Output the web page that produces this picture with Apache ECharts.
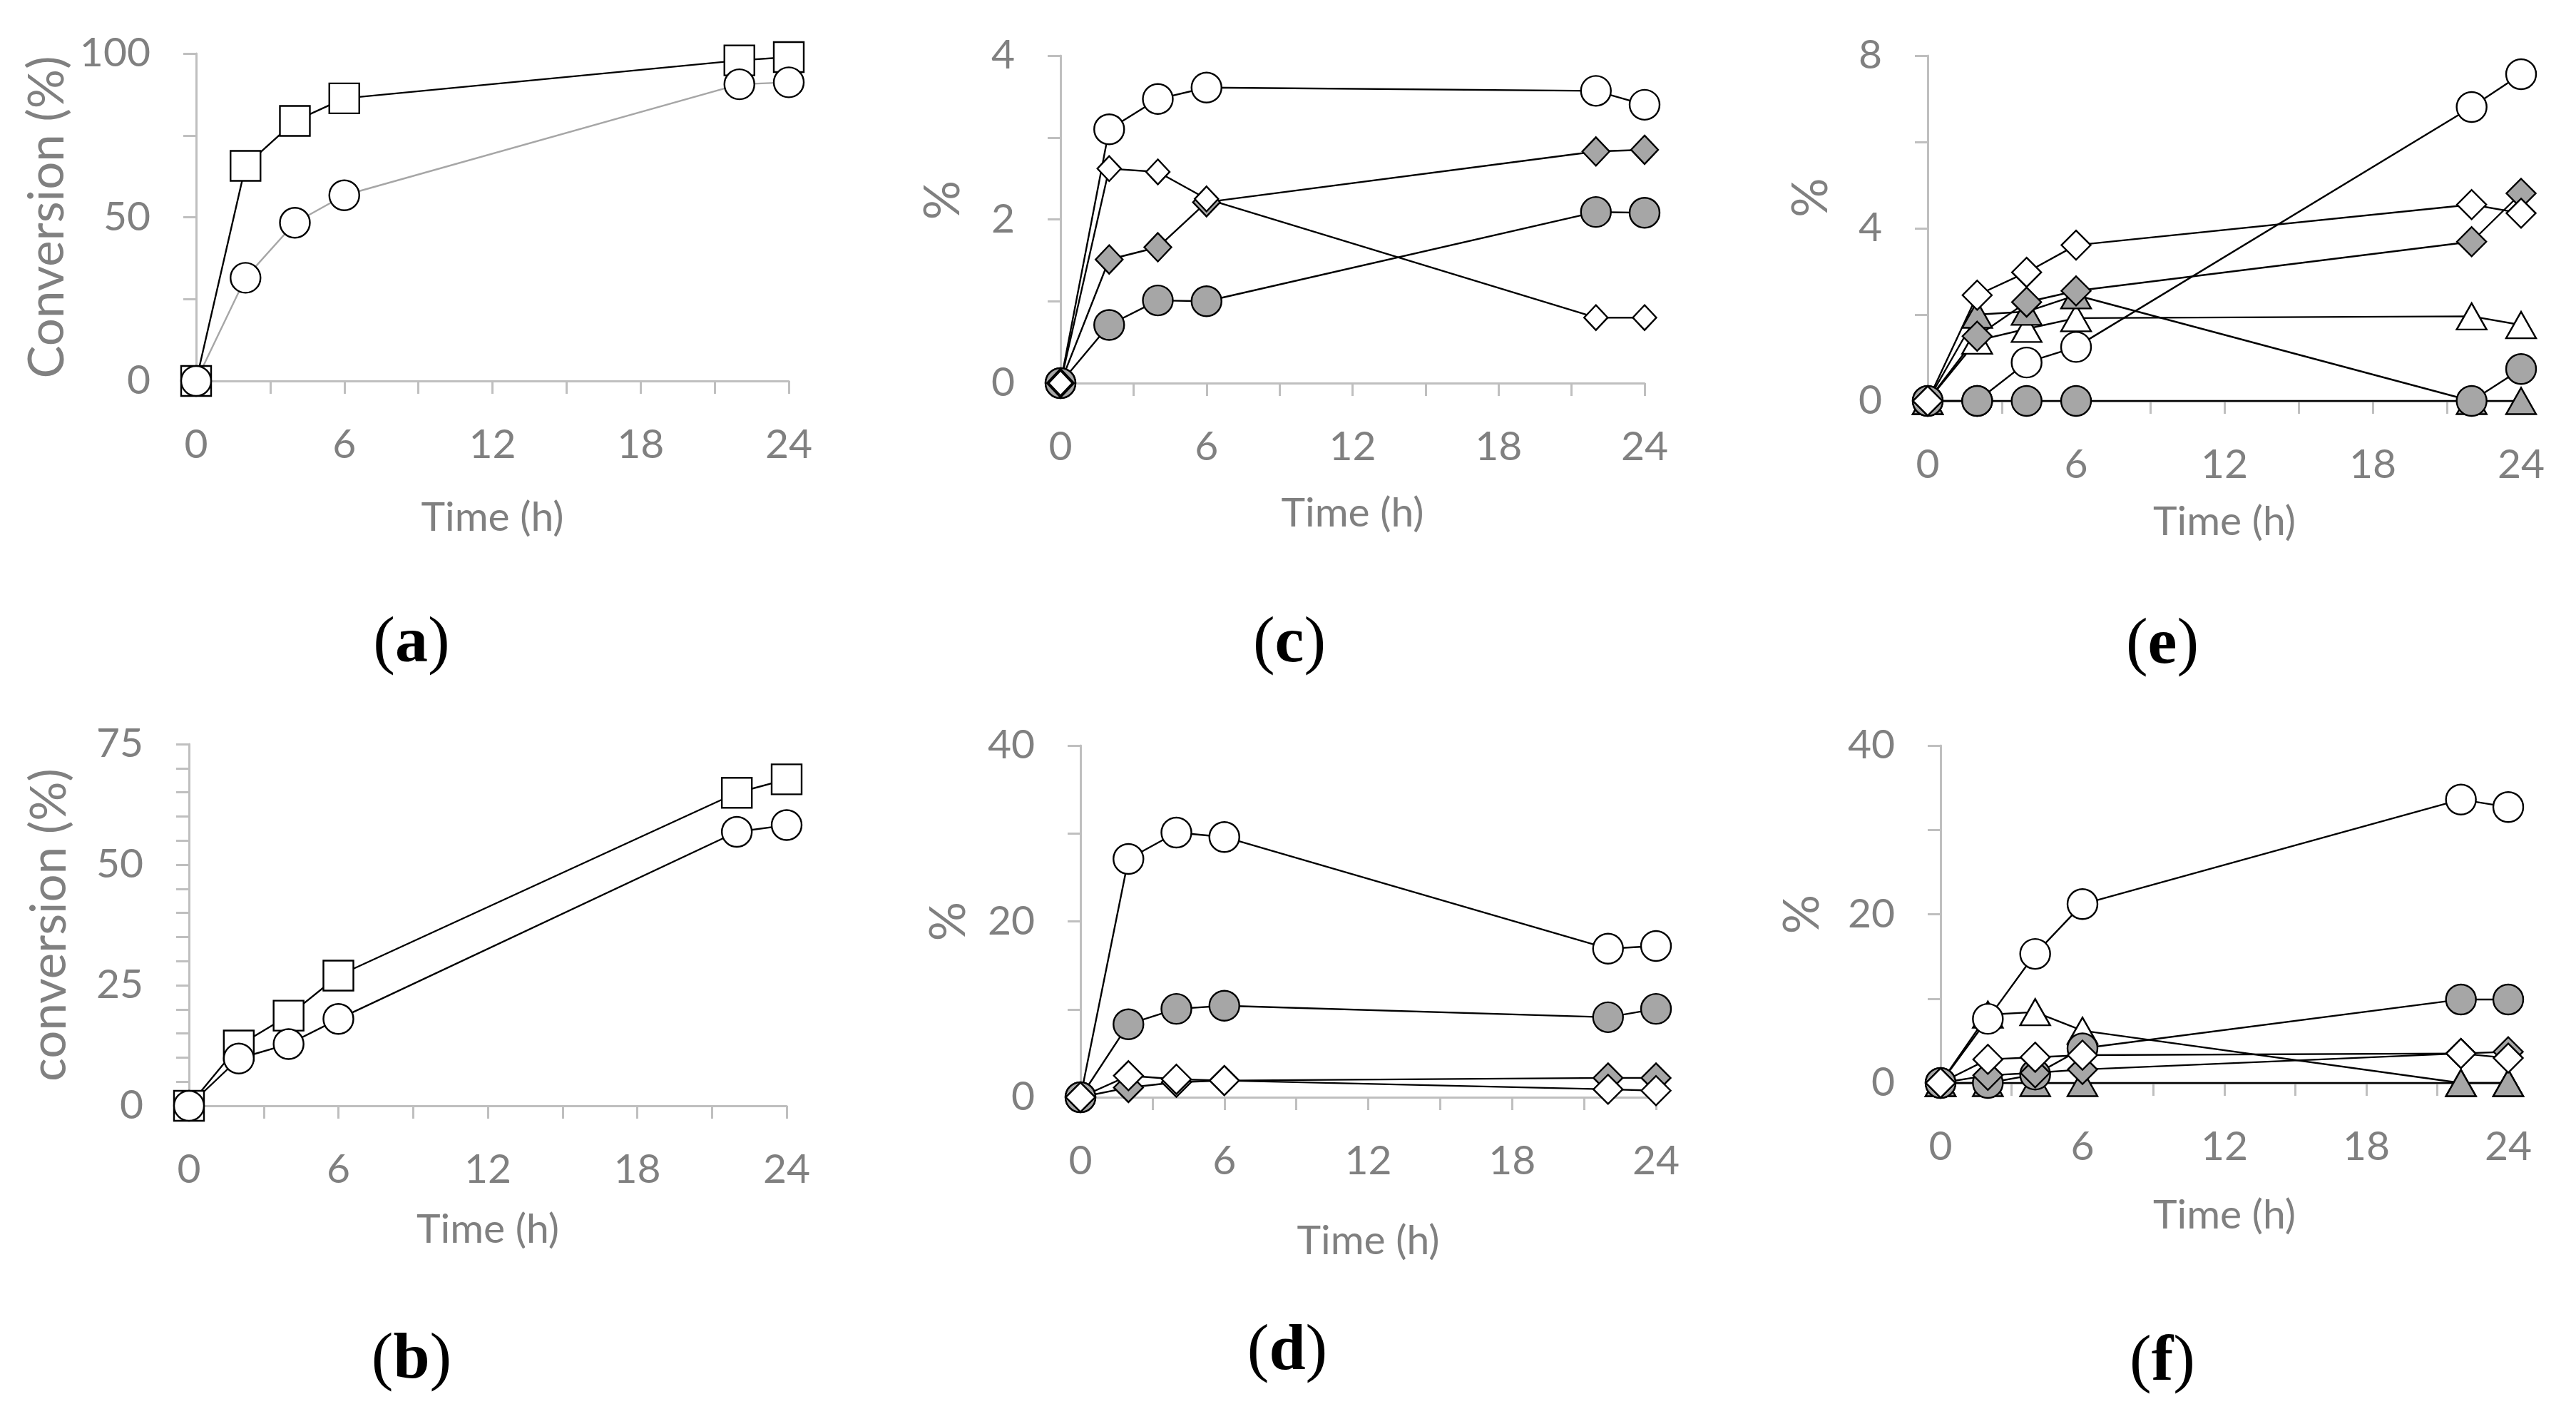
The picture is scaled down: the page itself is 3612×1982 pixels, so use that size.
<!DOCTYPE html>
<html>
<head>
<meta charset="utf-8">
<script src="https://cdn.jsdelivr.net/npm/echarts@6/dist/echarts.min.js"></script>
<style>
html, body { margin: 0; padding: 0; background: #fff; }
#container { width: 3612px; height: 1982px; }
</style>
</head>
<body>
<div id="container"></div>
<script>
// sampling times (h), shared by all panels
var hours = [0, 2, 4, 6, 22, 24];

// (a) conversion
var aSquare = [0, 65.7, 79.4, 86.3, 97.9, 98.9];
var aCircle = [0, 31.5, 48.3, 56.7, 90.6, 91.2];
// (b) conversion
var bSquare = [0, 12.5, 18.7, 27.0, 64.9, 67.7];
var bCircle = [0, 9.8, 12.8, 18.0, 56.8, 58.2];
// (c) %
var cOpenCircle = [0, 3.10, 3.47, 3.61, 3.57, 3.40];
var cGreyCircle = [0, 0.71, 1.01, 1.00, 2.09, 2.08];
var cGreyDiamond = [0, 1.51, 1.66, 2.21, 2.83, 2.85];
var cOpenDiamond = [0, 2.62, 2.58, 2.25, 0.80, 0.80];
// (d) %
var dOpenCircle = [0, 27.1, 30.1, 29.6, 16.9, 17.2];
var dGreyCircle = [0, 8.3, 10.05, 10.4, 9.1, 10.05];
var dGreyDiamond = [0, 1.1, 1.7, 1.9, 2.2, 2.2];
var dOpenDiamond = [0, 2.45, 2.05, 1.9, 0.9, 0.75];
// (e) %
var eOpenTriangle = [0, 1.40, 1.67, 1.92, 1.96, 1.76];
var eGreyTriangle = [0, 2.0, 2.07, 2.45, 0, 0];
var eOpenCircle = [0, 0, 0.89, 1.25, 6.81, 7.57];
var eGreyCircle = [0, 0, 0, 0, 0, 0.74];
var eGreyDiamond = [0, 1.50, 2.29, 2.55, 3.69, 4.81];
var eOpenDiamond = [0, 2.45, 2.98, 3.61, 4.55, 4.35];
// (f) %
var fOpenTriangle = [0, 8.1, 8.4, 6.2, 0, 0];
var fGreyTriangle = [0, 0, 0, 0, 0, 0];
var fOpenCircle = [0, 7.6, 15.3, 21.2, 33.6, 32.7];
var fGreyCircle = [0, 0, 1.0, 4.1, 9.9, 9.9];
var fGreyDiamond = [0, 0.9, 1.2, 1.6, 3.5, 3.7];
var fOpenDiamond = [0, 2.8, 3.05, 3.3, 3.5, 2.95];

// y axis settings per panel: max, tick step, label step
var yMax = [100, 75, 4, 40, 8, 40];
var yTick = [25, 5, 1, 10, 2, 10];
var yLabelStep = [50, 25, 2, 20, 4, 20];
var yNames = ['Conversion (%)', 'conversion (%)', '%', '%', '%', '%'];
var panelLabels = ['a', 'b', 'c', 'd', 'e', 'f'];

var grey = '#a6a6a6';
var axisGrey = '#bfbfbf';
var textGrey = '#808080';
var font = 'Lato';

var dom = document.getElementById('container');
var myChart = echarts.init(dom);

// pixel layout of each plot box (a, b, c, d, e, f)
var grids = [
	{ left: 275, top: 75, width: 831, height: 459 },
	{ left: 265, top: 1043, width: 838, height: 507 },
	{ left: 1487, top: 78, width: 819, height: 459 },
	{ left: 1515, top: 1045, width: 807, height: 493 },
	{ left: 2703, top: 78, width: 832, height: 484 },
	{ left: 2721, top: 1045, width: 796, height: 473 }
];
var xNameGap = [163, 145, 154, 173, 141, 157];
var yNameGap = [174, 161, 130, 150, 129, 159];
var yNamePad = [0, 0, 54, 0, 86, 0];
var labelPos = [[577, 903], [577, 1907], [1808, 903], [1805, 1895], [3032, 905], [3032, 1910]];

function pairs(vals) {
	return hours.map(function(h, i) {
		return [h, vals[i]];
	});
}

function mk(idx, vals, symbol, fill, size, lineColor) {
	return {
		type: 'line',
		xAxisIndex: idx,
		yAxisIndex: idx,
		data: pairs(vals),
		symbol: symbol,
		symbolSize: size,
		clip: false,
		lineStyle: { color: lineColor || '#000', width: 2.4 },
		itemStyle: { color: fill, borderColor: '#000', borderWidth: 2.4 },
		emphasis: { disabled: true }
	};
}

var xAxes = [], yAxes = [], graphics = [];
for (var i = 0; i < 6; i++) {
	(function(i) {
		xAxes.push({
			type: 'value',
			gridIndex: i,
			min: 0,
			max: 24,
			interval: 3,
			name: 'Time (h)',
			nameLocation: 'middle',
			nameGap: xNameGap[i],
			nameTextStyle: { color: textGrey, fontFamily: font, fontSize: 57 },
			axisLine: { lineStyle: { color: axisGrey, width: 3 } },
			axisTick: { length: 18, lineStyle: { color: axisGrey, width: 3 } },
			axisLabel: {
				color: textGrey, fontFamily: font, fontSize: 57, margin: 61,
				formatter: function(v) { return v % 6 === 0 ? v : ''; }
			},
			splitLine: { show: false }
		});
		yAxes.push({
			type: 'value',
			gridIndex: i,
			min: 0,
			max: yMax[i],
			interval: yTick[i],
			name: yNames[i],
			nameLocation: 'middle',
			nameGap: yNameGap[i],
			nameTextStyle: { color: textGrey, fontFamily: font, fontSize: 69, padding: [0, 0, 0, yNamePad[i]] },
			axisLine: { lineStyle: { color: axisGrey, width: 3 } },
			axisTick: { length: 18, lineStyle: { color: axisGrey, width: 3 } },
			axisLabel: {
				color: textGrey, fontFamily: font, fontSize: 57, margin: 64,
				formatter: function(v) { return Math.abs(v % yLabelStep[i]) < 1e-9 ? v : ''; }
			},
			splitLine: { show: false }
		});
		graphics.push({
			type: 'text',
			x: labelPos[i][0],
			y: labelPos[i][1],
			style: {
				text: '{p|(}{b|' + panelLabels[i] + '}{p|)}',
				align: 'center',
				verticalAlign: 'middle',
				rich: {
					p: { fontFamily: 'Liberation Serif', fontSize: 92, fill: '#000' },
					b: { fontFamily: 'Liberation Serif', fontSize: 92, fontWeight: 'bold', fill: '#000' }
				}
			}
		});
	})(i);
}

var series = [
	// (a)
	mk(0, aSquare, 'rect', '#fff', 42),
	mk(0, aCircle, 'circle', '#fff', 42, grey),
	// (b)
	mk(1, bSquare, 'rect', '#fff', 42),
	mk(1, bCircle, 'circle', '#fff', 42),
	// (c)
	mk(2, cOpenCircle, 'circle', '#fff', 42),
	mk(2, cGreyCircle, 'circle', grey, 42),
	mk(2, cGreyDiamond, 'diamond', grey, [38, 40]),
	mk(2, cOpenDiamond, 'diamond', '#fff', [33, 35]),
	// (d)
	mk(3, dOpenCircle, 'circle', '#fff', 42),
	mk(3, dGreyCircle, 'circle', grey, 42),
	mk(3, dGreyDiamond, 'diamond', grey, 41),
	mk(3, dOpenDiamond, 'diamond', '#fff', 41),
	// (e)
	mk(4, eOpenTriangle, 'triangle', '#fff', [42, 37]),
	mk(4, eGreyTriangle, 'triangle', grey, [42, 37]),
	mk(4, eOpenCircle, 'circle', '#fff', 42),
	mk(4, eGreyCircle, 'circle', grey, 42),
	mk(4, eGreyDiamond, 'diamond', grey, 41),
	mk(4, eOpenDiamond, 'diamond', '#fff', 41),
	// (f)
	mk(5, fOpenTriangle, 'triangle', '#fff', [42, 37]),
	mk(5, fGreyTriangle, 'triangle', grey, [42, 37]),
	mk(5, fOpenCircle, 'circle', '#fff', 42),
	mk(5, fGreyCircle, 'circle', grey, 42),
	mk(5, fGreyDiamond, 'diamond', grey, 41),
	mk(5, fOpenDiamond, 'diamond', '#fff', 41)
];

var option = {
	backgroundColor: '#fff',
	animation: false,
	grid: grids,
	xAxis: xAxes,
	yAxis: yAxes,
	series: series,
	graphic: graphics
};
myChart.setOption(option);
</script>
</body>
</html>
